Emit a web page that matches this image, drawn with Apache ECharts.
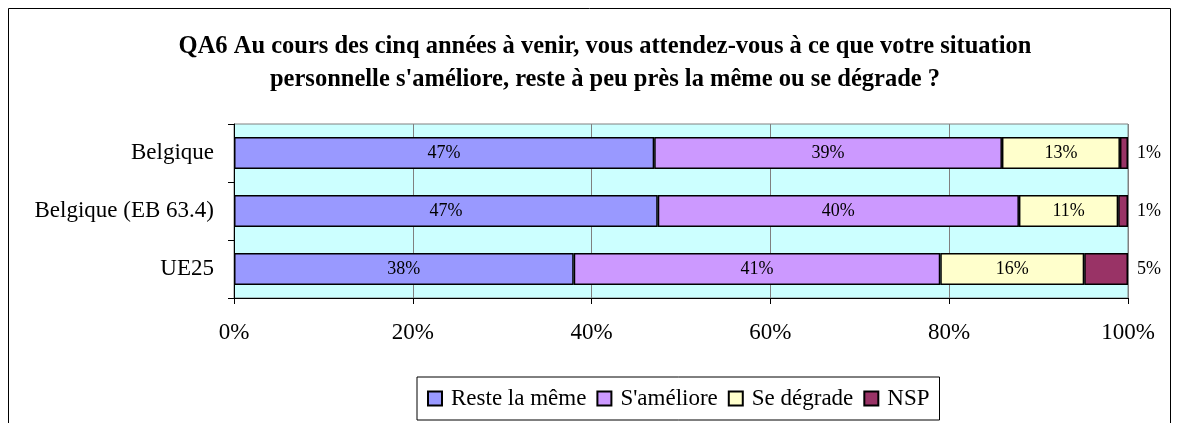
<!DOCTYPE html>
<html lang="fr">
<head>
<meta charset="UTF-8" />
<title>QA6</title>
<style>
  body { margin: 0; background: #fff; }
  #chart { width: 1177px; height: 423px; }
</style>
</head>
<body>
<div id="chart"></div>
<script src="https://cdn.jsdelivr.net/npm/echarts@6/dist/echarts.min.js"></script>
<script>
  // Données
  const categories = ['Belgique', 'Belgique (EB 63.4)', 'UE25'];
  const seriesNames = ['Reste la même', "S'améliore", 'Se dégrade', 'NSP'];
  const resteLaMeme = [47.0, 47.4, 38.0];
  const sAmeliore = [38.9, 40.4, 41.0];
  const seDegrade = [13.2, 11.1, 16.1];
  const nsp = [0.9, 1.1, 4.9];
  const xTicks = [0, 20, 40, 60, 80, 100];

  const colors = ['#9999FF', '#CC99FF', '#FFFFCC', '#993366'];
  const serif = '"Liberation Serif", "DejaVu Serif", serif';

  const chart = echarts.init(document.getElementById('chart'), null, {renderer: 'canvas'});

  function makeSeries(name, values, idx) {
    const outside = idx === 3;
    return {
      name: name,
      type: 'bar',
      stack: 'total',
      data: values,
      barWidth: 32,
      itemStyle: {color: colors[idx], borderColor: '#000', borderWidth: 1.5},
      label: {
        show: true,
        position: outside ? 'right' : 'inside',
        distance: outside ? 9 : 5,
        formatter: p => Math.round(p.value) + '%',
        color: '#000',
        fontFamily: serif,
        fontSize: 18
      },
      emphasis: {disabled: true}
    };
  }

  const option = {
    animation: false,
    title: {
      text: "QA6 Au cours des cinq années à venir, vous attendez-vous à ce que votre situation\npersonnelle s'améliore, reste à peu près la même ou se dégrade ?",
      left: 600,
      textAlign: 'center',
      top: 25,
      textStyle: {fontFamily: serif, fontWeight: 'bold', fontSize: 24.5, lineHeight: 33, color: '#000'}
    },
    graphic: [{
      type: 'rect',
      shape: {x: 8.5, y: 8.5, width: 1162, height: 440},
      style: {fill: 'none', stroke: '#000', lineWidth: 1},
      silent: true
    }],
    legend: {
      data: seriesNames,
      left: 417,
      top: 377,
      padding: [10, 10, 10, 10],
      itemWidth: 14,
      itemHeight: 14,
      itemGap: 10,
      borderColor: '#000',
      borderWidth: 1,
      backgroundColor: '#fff',
      icon: 'rect',
      textStyle: {fontFamily: serif, fontSize: 23, color: '#000', padding: [0, 0, 0, 4]}
    },
    grid: {left: 234, right: 49, top: 124, height: 174, backgroundColor: '#CCFFFF', show: true, borderColor: '#808080', borderWidth: 1},
    xAxis: {
      type: 'value',
      min: 0,
      max: 100,
      interval: 20,
      axisLine: {show: true, lineStyle: {color: '#000'}},
      axisTick: {show: true, length: 6, lineStyle: {color: '#000'}},
      splitLine: {show: true, lineStyle: {color: '#808080'}},
      axisLabel: {
        margin: 23,
        fontFamily: serif,
        fontSize: 23,
        color: '#000',
        formatter: v => xTicks.includes(v) ? v + '%' : ''
      }
    },
    yAxis: {
      type: 'category',
      data: categories,
      inverse: true,
      axisLine: {show: true, lineStyle: {color: '#000'}},
      axisTick: {show: true, length: 6, lineStyle: {color: '#000'}},
      axisLabel: {margin: 20, fontFamily: serif, fontSize: 23, color: '#000'}
    },
    series: [
      makeSeries(seriesNames[0], resteLaMeme, 0),
      makeSeries(seriesNames[1], sAmeliore, 1),
      makeSeries(seriesNames[2], seDegrade, 2),
      makeSeries(seriesNames[3], nsp, 3)
    ]
  };

  chart.setOption(option);
</script>
</body>
</html>
